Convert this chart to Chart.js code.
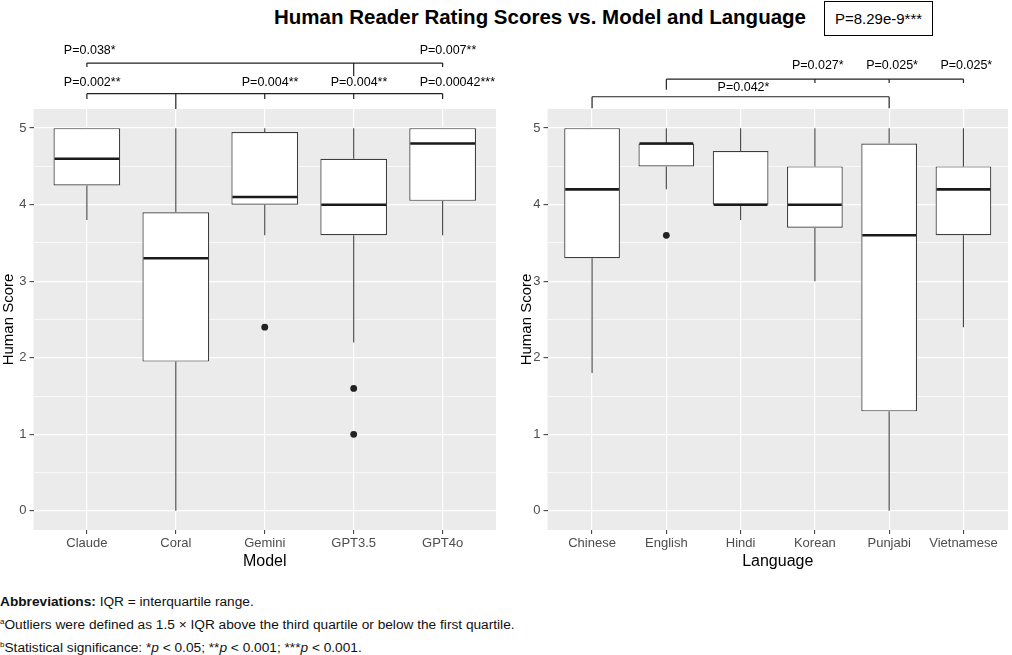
<!DOCTYPE html>
<html>
<head>
<meta charset="utf-8">
<script src="https://cdn.jsdelivr.net/npm/chart.js@4.4.0/dist/chart.umd.min.js"></script>
<style>
body { margin: 0; background: #fff; width: 1012px; height: 655px; overflow: hidden; position: relative; font-family: "Liberation Sans", Arial, sans-serif; }
#titulo { position: absolute; left: 540px; top: 5px; transform: translateX(-50%); font-weight: bold; font-size: 20.5px; line-height: 24px; white-space: nowrap; color: #000; }
#pglobal { position: absolute; left: 824px; top: 1px; width: 107px; height: 33px; border: 1px solid #000; font-size: 15px; line-height: 33px; text-align: center; color: #000; }
canvas { position: absolute; top: 0; }
#graficaModelo { left: 0; }
#graficaIdioma { left: 500px; }
.nota { position: absolute; left: 0; font-size: 13.7px; line-height: 16px; white-space: nowrap; color: #111; }
.nota sup { font-size: 8px; vertical-align: top; line-height: 10px; }
</style>
</head>
<body>
<div id="titulo">Human Reader Rating Scores vs. Model and Language</div>
<div id="pglobal">P=8.29e-9***</div>
<canvas id="graficaModelo" width="500" height="580"></canvas>
<canvas id="graficaIdioma" width="512" height="580"></canvas>
<div class="nota" style="top:594px"><b>Abbreviations:</b> IQR = interquartile range.</div>
<div class="nota" style="top:617px"><sup>a</sup>Outliers were defined as 1.5 × IQR above the third quartile or below the first quartile.</div>
<div class="nota" style="top:640px"><sup>b</sup>Statistical significance: *<i>p</i> &lt; 0.05; **<i>p</i> &lt; 0.001; ***<i>p</i> &lt; 0.001.</div>

<script>
// Panel izquierdo: por modelo
const modelos = ['Claude', 'Coral', 'Gemini', 'GPT3.5', 'GPT4o'];
const modeloMin = [3.8, 0, 3.6, 2.2, 3.6];
const modeloQ1 = [4.25, 1.95, 4.0, 3.6, 4.05];
const modeloMediana = [4.6, 3.3, 4.1, 4.0, 4.8];
const modeloQ3 = [5, 3.9, 4.95, 4.6, 5];
const modeloMax = [5, 5, 5, 5, 5];
const modeloAtipicosCat = ['Gemini', 'GPT3.5', 'GPT3.5'];
const modeloAtipicosVal = [2.4, 1.6, 1.0];

// Panel derecho: por idioma
const idiomas = ['Chinese', 'English', 'Hindi', 'Korean', 'Punjabi', 'Vietnamese'];
const idiomaMin = [1.8, 4.2, 3.8, 3.0, 0, 2.4];
const idiomaQ1 = [3.3, 4.5, 4.0, 3.7, 1.3, 3.6];
const idiomaMediana = [4.2, 4.8, 4.0, 4.0, 3.6, 4.2];
const idiomaQ3 = [5, 4.8, 4.7, 4.5, 4.8, 4.5];
const idiomaMax = [5, 5, 5, 5, 5, 5];
const idiomaAtipicosCat = ['English'];
const idiomaAtipicosVal = [3.6];

const ticksY = [0, 0.5, 1, 1.5, 2, 2.5, 3, 3.5, 4, 4.5, 5];

// comparaciones: grupo de referencia, grupos comparados, valores P
const modeloCompRef = ['Coral', 'GPT3.5'];
const modeloCompGrupos = [['Claude', 'Gemini', 'GPT3.5', 'GPT4o'], ['Claude', 'GPT4o']];
const modeloCompP = [['P=0.002**', 'P=0.004**', 'P=0.004**', 'P=0.00042***'], ['P=0.038*', 'P=0.007**']];

const idiomaCompRef = ['English', 'Chinese'];
const idiomaCompGrupos = [['Korean', 'Punjabi', 'Vietnamese'], ['Punjabi']];
const idiomaCompP = [['P=0.027*', 'P=0.025*', 'P=0.025*'], ['P=0.042*']];

// alturas de los corchetes (en unidades del eje y, por encima del panel)
const nivelesModelo = [
    { linea: 5.45, tick: 5.38, tallo: 5.25, texto: 5.60 },
    { linea: 5.85, tick: 5.80, tallo: 5.68, texto: 6.02 }
];
const nivelesIdioma = [
    { linea: 5.64, tick: 5.59, tallo: 5.50, texto: 5.82 },
    { linea: 5.41, tick: 5.26, tallo: 5.26, texto: 5.53, centrado: true }
];

function crearGrafica(id, cats, mins, q1, med, q3, maxs, atCat, atVal, refs, grupos, etiquetas, niveles, tituloX, padIzq, padDer, padTitulo) {
    const ctx = document.getElementById(id).getContext('2d');

    const fondo = {
        id: 'fondo',
        beforeDraw(chart) {
            const a = chart.chartArea;
            chart.ctx.save();
            chart.ctx.fillStyle = '#ebebeb';
            chart.ctx.fillRect(a.left, a.top, a.right - a.left, a.bottom - a.top);
            chart.ctx.restore();
        }
    };

    const cajas = {
        id: 'cajas',
        beforeDatasetsDraw(chart) {
            // bigotes
            const y = chart.scales.y, c = chart.ctx;
            const meta = chart.getDatasetMeta(0);
            c.save();
            c.strokeStyle = '#444';
            c.lineWidth = 1.1;
            c.beginPath();
            meta.data.forEach((bar, i) => {
                c.moveTo(bar.x, y.getPixelForValue(mins[i]));
                c.lineTo(bar.x, y.getPixelForValue(q1[i]));
                c.moveTo(bar.x, y.getPixelForValue(q3[i]));
                c.lineTo(bar.x, y.getPixelForValue(maxs[i]));
            });
            c.stroke();
            c.restore();
        },
        afterDatasetsDraw(chart) {
            // medianas
            const y = chart.scales.y, c = chart.ctx;
            const meta = chart.getDatasetMeta(0);
            c.save();
            c.strokeStyle = '#1a1a1a';
            c.lineWidth = 2.6;
            c.beginPath();
            meta.data.forEach((bar, i) => {
                const py = y.getPixelForValue(med[i]);
                c.moveTo(bar.x - bar.width / 2 + 1, py);
                c.lineTo(bar.x + bar.width / 2 - 1, py);
            });
            c.stroke();
            c.restore();
        }
    };

    const corchetes = {
        id: 'corchetes',
        afterDraw(chart) {
            const x = chart.scales.x, y = chart.scales.y, c = chart.ctx;
            c.save();
            c.strokeStyle = '#222';
            c.lineWidth = 1.2;
            c.fillStyle = '#000';
            c.font = '12.5px "Liberation Sans", Arial, sans-serif';
            c.textBaseline = 'middle';
            c.textAlign = 'left';
            refs.forEach((ref, k) => {
                const niv = niveles[k];
                const xr = x.getPixelForValue(cats.indexOf(ref));
                const xs = grupos[k].map(g => x.getPixelForValue(cats.indexOf(g)));
                const todos = xs.concat([xr]);
                const yl = y.getPixelForValue(niv.linea);
                c.beginPath();
                c.moveTo(Math.min(...todos), yl);
                c.lineTo(Math.max(...todos), yl);
                c.moveTo(xr, yl);
                c.lineTo(xr, y.getPixelForValue(niv.tallo));
                xs.forEach(px => {
                    c.moveTo(px, yl);
                    c.lineTo(px, y.getPixelForValue(niv.tick));
                });
                c.stroke();
                const yt = y.getPixelForValue(niv.texto);
                etiquetas[k].forEach((t, j) => {
                    const px = niv.centrado ? (xr + xs[j]) / 2 : xs[j];
                    c.fillText(t, px - 23, yt);
                });
            });
            c.restore();
        }
    };

    return new Chart(ctx, {
        type: 'bar',
        data: {
            datasets: [
                {
                    label: 'IQR',
                    data: cats.map((cat, i) => ({ x: i, y: [q1[i], q3[i]] })),
                    backgroundColor: '#ffffff',
                    borderColor: '#3d3d3d',
                    borderWidth: 1.2,
                    borderSkipped: false,
                    barPercentage: 0.75,
                    categoryPercentage: 1,
                    grouped: false
                },
                {
                    type: 'scatter',
                    label: 'Atípicos',
                    data: atCat.map((cat, i) => ({ x: cats.indexOf(cat), y: atVal[i] })),
                    backgroundColor: '#222',
                    borderColor: '#222',
                    pointRadius: 3.4,
                    borderWidth: 0
                }
            ]
        },
        options: {
            responsive: false,
            animation: false,
            devicePixelRatio: 1,
            layout: { padding: { top: 109, left: padIzq, right: padDer, bottom: 0 } },
            plugins: { legend: { display: false }, tooltip: { enabled: false } },
            scales: {
                x: {
                    type: 'linear',
                    min: -0.6,
                    max: cats.length - 0.4,
                    offset: false,
                    afterBuildTicks: s => { s.ticks = cats.map((cat, i) => ({ value: i })); },
                    afterFit: s => { s.height = 50; },
                    border: { display: false },
                    grid: { color: '#ffffff', lineWidth: 1.2, offset: false, tickColor: '#333', tickLength: 4, tickWidth: 1 },
                    ticks: {
                        autoSkip: false,
                        maxRotation: 0,
                        padding: 2,
                        color: '#4d4d4d',
                        font: { family: '"Liberation Sans", Arial, sans-serif', size: 13 },
                        callback: v => cats[v]
                    },
                    title: {
                        display: true,
                        text: tituloX,
                        color: '#000',
                        font: { family: '"Liberation Sans", Arial, sans-serif', size: 16 },
                        padding: { top: 0, bottom: 9 }
                    }
                },
                y: {
                    min: -0.25,
                    max: 5.25,
                    afterBuildTicks: s => { s.ticks = ticksY.map(v => ({ value: v })); },
                    afterFit: s => { s.width = 33.5; },
                    border: { display: false },
                    grid: {
                        color: '#ffffff',
                        lineWidth: c => (c.tick && c.tick.value % 1 === 0) ? 1.3 : 0.7,
                        tickColor: c => (c.tick && c.tick.value % 1 === 0) ? '#333' : 'rgba(0,0,0,0)',
                        tickLength: 4,
                        tickWidth: 1
                    },
                    ticks: {
                        padding: 3,
                        color: '#4d4d4d',
                        font: { family: '"Liberation Sans", Arial, sans-serif', size: 13 },
                        callback: v => (v % 1 === 0 ? v : '')
                    },
                    title: {
                        display: true,
                        text: 'Human Score',
                        color: '#000',
                        font: { family: '"Liberation Sans", Arial, sans-serif', size: 15 },
                        padding: { top: padTitulo, bottom: 0 }
                    }
                }
            }
        },
        plugins: [fondo, cajas, corchetes]
    });
}

crearGrafica('graficaModelo', modelos, modeloMin, modeloQ1, modeloMediana, modeloQ3, modeloMax,
    modeloAtipicosCat, modeloAtipicosVal, modeloCompRef, modeloCompGrupos, modeloCompP, nivelesModelo,
    'Model', 0, 2.5, 0);

crearGrafica('graficaIdioma', idiomas, idiomaMin, idiomaQ1, idiomaMediana, idiomaQ3, idiomaMax,
    idiomaAtipicosCat, idiomaAtipicosVal, idiomaCompRef, idiomaCompGrupos, idiomaCompP, nivelesIdioma,
    'Language', 14, 0, 4);
</script>
</body>
</html>
